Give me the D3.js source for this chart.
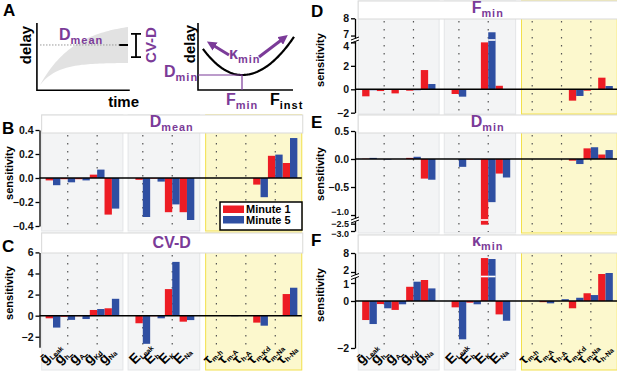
<!DOCTYPE html>
<html lang="en">
<head>
<meta charset="utf-8">
<title>Sensitivity panels</title>
<script src="https://d3js.org/d3.v7.min.js"></script>
<style>
  * { margin: 0; padding: 0; }
  body { width: 617px; height: 371px; background: #fff; overflow: hidden; }
  svg text { font-family: "Liberation Sans", Arial, sans-serif; font-weight: bold; }
</style>
</head>
<body>
<svg id="fig" width="617" height="371"></svg>
<script>
// categories (parameters) and their groups
const params   = ["gLeak", "gh", "gA", "gKd", "gNa", "ELeak", "Eh", "EK", "ENa", "tmh", "tmA", "thA", "tmKd", "tmNa", "thNa"];
const groupOf  = [0, 0, 0, 0, 0, 1, 1, 1, 1, 2, 2, 2, 2, 2, 2];
const labMain  = ["ḡ", "ḡ", "ḡ", "ḡ", "ḡ", "E", "E", "E", "E", "τ", "τ", "τ", "τ", "τ", "τ"];
const labSub   = ["Leak", "h", "A", "Kd", "Na", "Leak", "h", "K", "Na", "m-h", "m-A", "h-A", "m-Kd", "m-Na", "h-Na"];
const dotted   = ["gh", "gKd", "ELeak", "EK", "tmh", "thA", "tmNa"];
const series   = ["Minute 1", "Minute 5"];

// sensitivity values, minute 1 / minute 5
const dmean1 = [-0.02, -0.01, -0.01, 0.028, -0.305, -0.015, -0.005, -0.285, -0.285, 0, 0, 0, -0.055, 0.185, 0.125];
const dmean5 = [-0.06, -0.036, -0.02, 0.07, -0.255, -0.325, -0.03, -0.22, -0.35, 0, 0, 0, -0.16, 0.195, 0.333];
const cvd1   = [-0.25, -0.1, -0.05, 0.54, 0.7, -0.72, -0.05, 2.52, -0.57, 0, 0, 0, -0.66, 0.03, 2.05];
const cvd5   = [-1.13, -0.4, -0.32, 0.63, 1.6, -2.67, -0.25, 5.1, -0.42, 0, -0.05, 0, -0.95, 0, 2.65];
const fmin1  = [-0.6, -0.15, -0.35, -0.12, 1.64, -0.4, -0.05, 4.0, 0.3, 0, 0, 0, -0.97, -0.12, 0.99];
const fmin5  = [-0.08, -0.05, -0.04, -0.08, 0.45, -0.63, -0.02, 7.19, 0.02, 0, 0, 0, -0.57, 0, 0.28];
const dmin1  = [0.005, 0, 0, 0.02, -0.35, 0, -0.01, -2.57, -0.26, 0, 0, 0, -0.03, 0.19, 0.08];
const dmin5  = [0.02, -0.01, 0, 0.04, -0.37, -0.14, -0.01, -0.77, -0.33, 0, 0, 0, -0.09, 0.21, 0.16];
const kmin1  = [-0.81, -0.13, -0.38, 0.79, 1.3, -0.27, -0.07, 6.4, -0.57, 0, -0.05, 0, -0.31, 0.43, 1.84];
const kmin5  = [-0.98, -0.31, -0.14, 1.13, 0.7, -1.63, -0.14, 6.1, -0.84, 0, -0.1, 0.1, 0.18, 0.33, 1.92];

// axis ticks
const ticksB = [0.4, 0.2, 0, -0.2, -0.4];
const ticksC = [6, 4, 2, 0, -2];
const ticksD = [8, 7, 4, 2, 0, -2];
const ticksE = [0.5, 0, -0.5, -1.0, -2.5, -3.0];
const ticksF = [8, 2, 1, 0, -2];

const RED = "#ed1c24", BLUE = "#2f4fa2", PURPLE = "#7b3b98";
const svg = d3.select("#fig");

const slots = params.map((d, i) => i + [0, 1.1, 2.1][groupOf[i]]);
const pads = [[-0.77, 0.75], [-1.0, 0.87], [-0.73, 0.8]];

function title(sel, x, y, main, sub, size) {
    const t = sel.append("text").attr("x", x).attr("y", y).attr("fill", PURPLE)
        .attr("text-anchor", "middle").style("font-size", size + "px");
    t.append("tspan").text(main);
    if (sub) t.append("tspan").attr("dy", 4).style("font-size", (size * 0.68) + "px")
        .style("letter-spacing", "1px").text(sub);
}

function drawPanel(p) {
    const g = svg.append("g");
    const x = d3.scaleLinear().domain([0, 16.1]).range(p.xr);
    const y = d3.scaleLinear().domain(p.yd).range(p.yr);
    const bw = (x(1) - x(0)) / 2;
    const left = x(pads[0][0]), right = x(16.1 + pads[2][1]);

    // group backgrounds
    [0, 1, 2].forEach(k => {
        const idx = params.map((d, i) => i).filter(i => groupOf[i] === k);
        const x0 = x(slots[idx[0]] + pads[k][0]), x1 = x(slots[idx[idx.length - 1]] + pads[k][1]);
        g.append("rect")
            .attr("x", x0).attr("y", p.top).attr("width", x1 - x0).attr("height", p.bottom - p.top)
            .attr("fill", k === 2 ? "#fcf8cd" : "#f3f4f5")
            .attr("stroke", k === 2 ? "#f2e04a" : "#e3e5e7").attr("stroke-width", 1);
    });

    // dotted guides
    g.selectAll(".dot").data(params.filter(d => dotted.includes(d))).enter().append("line")
        .attr("x1", d => x(slots[params.indexOf(d)])).attr("x2", d => x(slots[params.indexOf(d)]))
        .attr("y1", p.bannerBottom + 2).attr("y2", p.dotBottom)
        .attr("stroke", "#555").attr("stroke-width", 1.2).attr("stroke-dasharray", "1.5,6.5");

    // banner
    g.append("rect").attr("x", left).attr("y", p.top).attr("width", right - left + 1)
        .attr("height", p.bannerBottom - p.top).attr("fill", "#fff").attr("stroke", "#d9d9d9");
    title(g, (left + right) / 2, p.titleY, p.title[0], p.title[1], 16);

    // bars
    const rows = params.map((d, i) => ({ i, v1: p.v1[i], v5: p.v5[i] }));
    [["v1", RED, -1], ["v5", BLUE, 0]].forEach(([key, col, off]) => {
        g.selectAll(".b" + key).data(rows).enter().append("rect")
            .attr("x", d => x(slots[d.i]) + off * bw)
            .attr("width", bw)
            .attr("y", d => Math.min(y(d[key]), y(0)))
            .attr("height", d => Math.abs(y(d[key]) - y(0)))
            .attr("fill", col);
    });

    // white break line through bars that cross the axis break
    if (p.brk) {
        rows.forEach(d => {
            [["v1", -1], ["v5", 0]].forEach(([key, off]) => {
                const v = d[key];
                if ((p.brk.val > 0 && v > p.brk.val) || (p.brk.val < 0 && v < p.brk.val)) {
                    g.append("rect").attr("x", x(slots[d.i]) + off * bw).attr("width", bw)
                        .attr("y", p.brk.y - 0.8).attr("height", 1.6).attr("fill", "#fff");
                }
            });
        });
    }

    // zero line
    g.append("line").attr("x1", p.ax).attr("x2", right).attr("y1", y(0)).attr("y2", y(0))
        .attr("stroke", "#000").attr("stroke-width", 1.5);

    // y axis
    const ax = g.append("g").attr("transform", `translate(${p.ax},0)`)
        .call(d3.axisLeft(y).tickValues(p.ticks).tickSize(4).tickSizeOuter(0).tickFormat(d3.format(p.fmt)));
    ax.select(".domain").attr("stroke-width", 1.3);
    ax.selectAll(".tick line").attr("stroke-width", 1.3);
    ax.selectAll(".tick text").style("font-size", d => (p.tickSmall && p.tickSmall.includes(d)) ? "9px" : "10.5px")
        .style("font-family", "'Liberation Sans', Arial, sans-serif")
        .style("font-weight", "bold").attr("fill", "#111").attr("x", -6)
        .attr("y", d => (p.tickShift && p.tickShift[d]) || 0);
    if (p.brk) {
        ax.append("rect").attr("x", -4).attr("y", p.brk.y - 1.5).attr("width", 8).attr("height", 3).attr("fill", "#fff");
        [-1.5, 1.5].forEach(o => ax.append("line").attr("x1", -4).attr("x2", 4)
            .attr("y1", p.brk.y + o + 1.5).attr("y2", p.brk.y + o - 1.5).attr("stroke", "#000").attr("stroke-width", 1));
    }

    // y label
    g.append("text").attr("transform", `translate(${p.ylabX},${p.ylabY}) rotate(-90)`)
        .attr("text-anchor", "middle").style("font-size", "11px").text("sensitivity");

    // panel letter
    g.append("text").attr("x", p.letter[1]).attr("y", p.letter[2]).style("font-size", "17px").text(p.letter[0]);

    // category labels
    if (p.labels) {
        params.forEach((d, i) => {
            const t = g.append("text")
                .attr("transform", `translate(${x(slots[i]) - 8},${p.labY}) rotate(-45)`)
                .style("font-size", "14px");
            t.append("tspan").text(labMain[i]);
            t.append("tspan").attr("dy", 2).style("font-size", "7px").text(labSub[i]);
        });
    }
    return { x, y };
}

// ---- Panel A (schematics) ----
const A = svg.append("g");
A.append("text").attr("x", 3).attr("y", 16).style("font-size", "17px").text("A");

const tA = d3.scaleLinear().domain([0, 1]).range([40, 128]);
const dA = d3.scaleLinear().domain([0, 1]).range([85, 27]);
const tt = d3.range(0, 1.0001, 0.025);
const upper = t => (1 - Math.exp(-2.5 * t)) / (1 - Math.exp(-2.5));
const lower = t => 0.38 * (1 - Math.exp(-5 * t)) / (1 - Math.exp(-5));
A.append("path").datum(tt)
    .attr("d", d3.area().x(t => tA(t)).y0(t => dA(lower(t))).y1(t => dA(upper(t))))
    .attr("fill", "#e2e2e2");
A.append("path").attr("d", `M${tA(-0.035)},${dA(1.07)}V${dA(-0.09)}H${tA(1.02)}`)
    .attr("fill", "none").attr("stroke", "#000").attr("stroke-width", 1.6);
A.append("line").attr("x1", tA(0)).attr("x2", tA(0.9)).attr("y1", dA(0.69)).attr("y2", dA(0.69))
    .attr("stroke", "#999").attr("stroke-dasharray", "1.5,1.5");
A.append("line").attr("x1", tA(0.9)).attr("x2", tA(1)).attr("y1", dA(0.69)).attr("y2", dA(0.69))
    .attr("stroke", "#000").attr("stroke-width", 2);
// CV-D bar
A.append("path").attr("d", `M131,${dA(0.88)}H141M136,${dA(0.88)}V${dA(0.48)}M131,${dA(0.48)}H141`)
    .attr("fill", "none").attr("stroke", "#000").attr("stroke-width", 1.8);
A.append("text").attr("transform", "translate(31,45) rotate(-90)").attr("text-anchor", "middle")
    .style("font-size", "15px").text("delay");
A.append("text").attr("x", 139).attr("y", 107).attr("text-anchor", "end").style("font-size", "15px").text("time");
{
    const t = A.append("text").attr("x", 59).attr("y", 40).attr("fill", PURPLE).style("font-size", "16px");
    t.append("tspan").text("D");
    t.append("tspan").attr("dy", 4).style("font-size", "11px").style("letter-spacing", "1px").text("mean");
}
A.append("text").attr("transform", "translate(156,45) rotate(-90)").attr("text-anchor", "middle")
    .attr("fill", PURPLE).style("font-size", "15px").text("CV-D");

// right schematic
const fA = d3.scaleLinear().domain([0, 1]).range([198, 296]);
A.append("path").attr("d", `M198,23V90H293`).attr("fill", "none").attr("stroke", "#000").attr("stroke-width", 1.6);
const ff = d3.range(0.05, 0.99, 0.01);
const fmin = 0.449;
const curve = f => 75 - (f < fmin ? 1575 : 1300) * (f - fmin) * (f - fmin) / 9.6;
A.append("path").datum(ff).attr("d", d3.line().x(f => fA(f)).y(f => curve(f)))
    .attr("fill", "none").attr("stroke", "#000").attr("stroke-width", 2.2);
A.append("path").attr("d", `M198,75H${fA(fmin)}V90`).attr("fill", "none").attr("stroke", PURPLE).attr("stroke-width", 1.2);
svg.append("defs").append("marker").attr("id", "ah").attr("viewBox", "0 0 10 10").attr("refX", 5).attr("refY", 5)
    .attr("markerWidth", 3.2).attr("markerHeight", 3.2).attr("orient", "auto")
    .append("path").attr("d", "M0,0L10,5L0,10z").attr("fill", PURPLE);
A.append("line").attr("x1", 229).attr("y1", 55).attr("x2", 211).attr("y2", 44)
    .attr("stroke", PURPLE).attr("stroke-width", 3).attr("marker-end", "url(#ah)");
A.append("line").attr("x1", 259).attr("y1", 57).attr("x2", 284).attr("y2", 38)
    .attr("stroke", PURPLE).attr("stroke-width", 3).attr("marker-end", "url(#ah)");
A.append("text").attr("transform", "translate(195,44) rotate(-90)").attr("text-anchor", "middle")
    .style("font-size", "15px").text("delay");
function subText(x, y, main, sub, col) {
    const t = A.append("text").attr("x", x).attr("y", y).attr("fill", col).style("font-size", "16px");
    t.append("tspan").text(main);
    t.append("tspan").attr("dy", 4).style("font-size", "11px").style("letter-spacing", "1px").text(sub);
}
subText(164, 77, "D", "min", PURPLE);
subText(229, 59, "κ", "min", PURPLE);
subText(226, 105, "F", "min", PURPLE);
subText(270, 105, "F", "inst", "#000");

// ---- Panels B–F ----
const L = [53, 290], R = [369.5, 605.5];
drawPanel({ xr: L, ax: 39.5, top: 115, bannerBottom: 133, bottom: 231, dotBottom: 231, titleY: 127,
    title: ["D", "mean"], yd: [-0.4, 0.4], yr: [226, 130], ticks: ticksB, fmt: ".1f", v1: dmean1, v5: dmean5,
    ylabX: 13, ylabY: 173, letter: ["B", 2, 134] });
drawPanel({ xr: L, ax: 39.5, top: 233, bannerBottom: 253, bottom: 370, dotBottom: 347, titleY: 248,
    title: ["CV-D", null], yd: [-3, 6], yr: [347.3, 252.4], ticks: ticksC, fmt: "d", v1: cvd1, v5: cvd5,
    ylabX: 13, ylabY: 293, letter: ["C", 2, 252], labels: true, labY: 365 });
drawPanel({ xr: R, ax: 355, top: 1, bannerBottom: 19, bottom: 114, dotBottom: 114, titleY: 13,
    title: ["F", "min"], yd: [-2, 0, 4.1, 6.8, 8], yr: [112.7, 89.3, 41.2, 39, 18.3], ticks: ticksD, fmt: "d",
    v1: fmin1, v5: fmin5, brk: { val: 6.8, y: 40 }, tickShift: { 7: -1.5, 4: 4 },
    ylabX: 324, ylabY: 60, letter: ["D", 311, 17] });
drawPanel({ xr: R, ax: 355, top: 115, bannerBottom: 133, bottom: 233, dotBottom: 232, titleY: 127,
    title: ["D", "min"], yd: [-3.0, -2.42, -1.08, 0.5], yr: [231, 222.5, 219.5, 131], ticks: ticksE, fmt: ".1f",
    v1: dmin1, v5: dmin5, brk: { val: -2.42, y: 220 }, tickShift: { "-1": -3, "-2.5": -0.5, "-3": 2.5 },
    tickSmall: [-1.0, -2.5, -3.0],
    ylabX: 324, ylabY: 174, letter: ["E", 311, 128] });
drawPanel({ xr: R, ax: 355, top: 235, bannerBottom: 253, bottom: 370, dotBottom: 348, titleY: 246,
    title: ["κ", "min"], yd: [-2, 0, 1, 1.6, 2, 8], yr: [348, 301, 283, 277, 272, 253], ticks: ticksF, fmt: "d",
    v1: kmin1, v5: kmin5, brk: { val: 2, y: 276.5 }, tickShift: { 2: -1.5, 1: 1 },
    ylabX: 324, ylabY: 295, letter: ["F", 311, 246], labels: true, labY: 365 });

// legend (in panel B)
const lg = svg.append("g").attr("transform", "translate(220,202)");
lg.append("rect").attr("width", 82).attr("height", 28).attr("fill", "#fff").attr("stroke", "#000").attr("stroke-width", 1.5);
series.forEach((s, i) => {
    lg.append("rect").attr("x", 3).attr("y", 3.5 + i * 10.5).attr("width", 21).attr("height", 7.5).attr("fill", [RED, BLUE][i]);
    lg.append("text").attr("x", 26).attr("y", 11 + i * 10.5).style("font-size", "11px").text(s);
});
</script>
</body>
</html>
